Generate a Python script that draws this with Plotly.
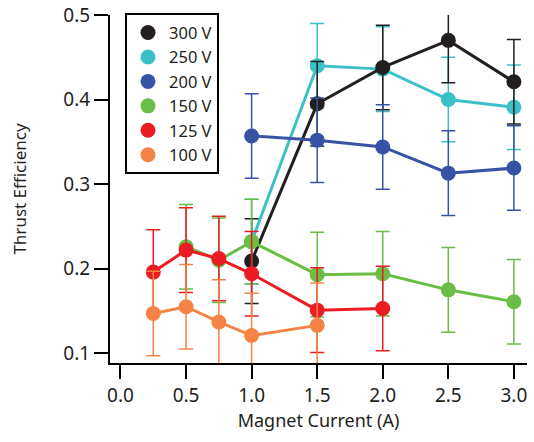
import plotly.graph_objects as go

x_300 = [1.0, 1.5, 2.0, 2.5, 3.0]
y_300 = [0.209, 0.395, 0.438, 0.470, 0.421]
x_250 = [1.0, 1.5, 2.0, 2.5, 3.0]
y_250 = [0.232, 0.440, 0.436, 0.400, 0.391]
x_200 = [1.0, 1.5, 2.0, 2.5, 3.0]
y_200 = [0.357, 0.352, 0.344, 0.313, 0.319]
x_150 = [0.5, 0.75, 1.0, 1.5, 2.0, 2.5, 3.0]
y_150 = [0.226, 0.210, 0.232, 0.193, 0.194, 0.175, 0.161]
x_125 = [0.25, 0.5, 0.75, 1.0, 1.5, 2.0]
y_125 = [0.196, 0.222, 0.212, 0.194, 0.151, 0.153]
x_100 = [0.25, 0.5, 0.75, 1.0, 1.5]
y_100 = [0.147, 0.155, 0.137, 0.121, 0.133]
err = 0.05

series = [
    ("250 V", x_250, y_250, "#3cc0c7"),
    ("300 V", x_300, y_300, "#231f20"),
    ("200 V", x_200, y_200, "#3953a4"),
    ("150 V", x_150, y_150, "#6abd45"),
    ("125 V", x_125, y_125, "#ec1c24"),
    ("100 V", x_100, y_100, "#f58345"),
]
legend_order = ["300 V", "250 V", "200 V", "150 V", "125 V", "100 V"]

fig = go.Figure()
for name, xs, ys, col in series:
    fig.add_trace(go.Scatter(
        x=xs, y=ys, mode="lines+markers", name=name, showlegend=False,
        line=dict(color=col, width=3),
        marker=dict(color=col, size=15),
        error_y=dict(type="constant", value=err, color=col, thickness=1.5, width=7),
    ))
colors = {n: c for n, _, _, c in series}
for name in legend_order:
    fig.add_trace(go.Scatter(
        x=[None], y=[None], mode="markers", name=name,
        marker=dict(color=colors[name], size=15),
    ))

font = "Noto Sans"
fig.update_layout(
    width=534, height=442,
    margin=dict(l=110, r=7, t=15, b=79, autoexpand=False),
    paper_bgcolor="white", plot_bgcolor="white",
    font=dict(family=font, size=19, color="#231f20"),
    legend=dict(x=0.036, y=1.005, xanchor="left", yanchor="top",
                bgcolor="white", bordercolor="black", borderwidth=2,
                font=dict(size=16.5), tracegroupgap=0, itemwidth=32),
    xaxis=dict(range=[-0.08, 3.1], tickvals=[0, 0.5, 1.0, 1.5, 2.0, 2.5, 3.0],
               tickformat=".1f", showline=True, linecolor="black", linewidth=2,
               ticks="outside", ticklen=14, tickwidth=1.5, tickcolor="black",
               showgrid=False, zeroline=False, automargin=False,
               title=dict(text="Magnet Current (A)", font=dict(size=18), standoff=6)),
    yaxis=dict(range=[0.0885, 0.5], tickvals=[0.1, 0.2, 0.3, 0.4, 0.5],
               tickformat=".1f", showline=True, linecolor="black", linewidth=2,
               ticks="outside", ticklen=14, tickwidth=1.5, tickcolor="black",
               showgrid=False, zeroline=False, automargin=False,
               title=dict(text="Thrust Efficiency", font=dict(size=17), standoff=32)),
)
fig.write_html("out.html", config={"displayModeBar": False},
               post_script="document.body.style.margin='0';document.body.style.padding='0';")
